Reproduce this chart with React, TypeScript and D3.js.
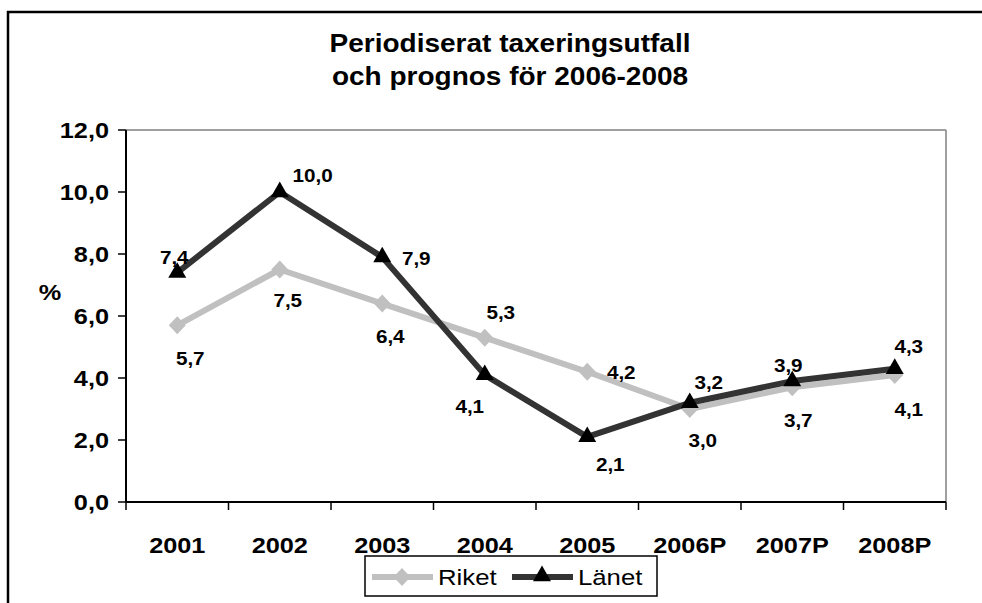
import React from "react";
import * as d3 from "d3";

const categories = ["2001", "2002", "2003", "2004", "2005", "2006P", "2007P", "2008P"];
const riket = [5.7, 7.5, 6.4, 5.3, 4.2, 3.0, 3.7, 4.1];
const lanet = [7.4, 10.0, 7.9, 4.1, 2.1, 3.2, 3.9, 4.3];
const yTicks = [0, 2, 4, 6, 8, 10, 12];
const titleLines = ["Periodiserat taxeringsutfall", "och prognos för 2006-2008"];

// label offsets (dx, dy of label centre from point) – styling only
const riketLabelOff = [[13, 33], [8, 31], [8, 33], [16, -25], [34, 1], [13, 31], [6, 33], [14, 35]];
const lanetLabelOff = [[-3, -15], [33, -17], [34, 1], [-15, 32], [23, 28], [19, -20], [-4, -16], [14, -22]];

const FONT = "Arial, 'Liberation Sans', sans-serif";
const fmt = (v: number) => d3.format(".1f")(v).replace(".", ",");

function SText({ x, y, size, anchor = "middle", weight = "bold", sx = 1.15, children }: any) {
  return (
    <text
      transform={`translate(${x},${y}) scale(${sx},1)`}
      fontFamily={FONT}
      fontSize={size}
      fontWeight={weight}
      textAnchor={anchor}
      fill="#000"
    >
      {children}
    </text>
  );
}

export default function App() {
  const left = 126, right = 946, top = 130, bottom = 502;
  const x = d3.scaleBand().domain(categories).range([left, right]);
  const y = d3.scaleLinear().domain([0, 12]).range([bottom, top]);
  const cx = (c: string) => (x(c) as number) + x.bandwidth() / 2;

  const line = d3.line<number>().x((_, i) => cx(categories[i])).y((d) => y(d));
  const tri = d3.symbol().type(d3.symbolTriangle).size(140)();
  const diamond = "M0,-9L8.5,0L0,9L-8.5,0Z";

  const boundaries = d3.range(categories.length + 1).map((i) => left + i * x.bandwidth());

  return (
    <div style={{ position: "fixed", left: 0, top: 0 }}>
      <svg width={982} height={603} style={{ display: "block", background: "#fff" }}>
        {/* outer chart border */}
        <rect x={8} y={12} width={1004} height={640} fill="#fff" stroke="#000" strokeWidth={2.5} />

        {/* title */}
        {titleLines.map((t, i) => (
          <SText key={i} x={510} y={52 + i * 33} size={25} sx={1.12}>
            {t}
          </SText>
        ))}

        {/* plot area border (top/right gray) */}
        <line x1={left} y1={top} x2={right} y2={top} stroke="#808080" strokeWidth={1.5} />
        <line x1={right} y1={top} x2={right} y2={bottom} stroke="#808080" strokeWidth={1.5} />

        {/* y axis */}
        <line x1={left} y1={top} x2={left} y2={bottom} stroke="#000" strokeWidth={2} />
        {yTicks.map((t) => (
          <g key={t}>
            <line x1={left - 8} x2={left} y1={y(t)} y2={y(t)} stroke="#000" strokeWidth={1.5} />
            <SText x={109} y={y(t) + 8} size={22} anchor="end">
              {fmt(t)}
            </SText>
          </g>
        ))}
        <SText x={50} y={300} size={22}>%</SText>

        {/* x axis */}
        <line x1={left} y1={bottom} x2={right} y2={bottom} stroke="#000" strokeWidth={2} />
        {boundaries.map((b, i) => (
          <line key={i} x1={b} x2={b} y1={bottom} y2={bottom + 8} stroke="#000" strokeWidth={1.5} />
        ))}
        {categories.map((c) => (
          <SText key={c} x={cx(c)} y={553} size={22}>
            {c}
          </SText>
        ))}

        {/* series lines */}
        <path d={line(riket) || ""} fill="none" stroke="#C0C0C0" strokeWidth={6} strokeLinejoin="round" />
        {riket.map((v, i) => (
          <path key={i} d={diamond} transform={`translate(${cx(categories[i])},${y(v)})`} fill="#C0C0C0" />
        ))}
        <path d={line(lanet) || ""} fill="none" stroke="#333333" strokeWidth={6} strokeLinejoin="round" />
        {lanet.map((v, i) => (
          <path key={i} d={tri || ""} transform={`translate(${cx(categories[i])},${y(v)})`} fill="#000" />
        ))}

        {/* data labels */}
        {riket.map((v, i) => (
          <SText key={i} x={cx(categories[i]) + riketLabelOff[i][0]} y={y(v) + riketLabelOff[i][1] + 6.5} size={18}>
            {fmt(v)}
          </SText>
        ))}
        {lanet.map((v, i) => (
          <SText key={i} x={cx(categories[i]) + lanetLabelOff[i][0]} y={y(v) + lanetLabelOff[i][1] + 6.5} size={18}>
            {fmt(v)}
          </SText>
        ))}

        {/* legend */}
        <rect x={365} y={556} width={292} height={40} fill="#fff" stroke="#000" strokeWidth={1.5} />
        <line x1={372} x2={433} y1={577} y2={577} stroke="#C0C0C0" strokeWidth={6} />
        <path d={diamond} transform="translate(402,577)" fill="#C0C0C0" />
        <SText x={438} y={585} size={22} anchor="start" weight="normal" sx={1.17}>Riket</SText>
        <line x1={512} x2={573} y1={577} y2={577} stroke="#333333" strokeWidth={6} />
        <path d={tri || ""} transform="translate(542,576)" fill="#000" />
        <SText x={578} y={585} size={22} anchor="start" weight="normal" sx={1.17}>Länet</SText>
      </svg>
    </div>
  );
}
